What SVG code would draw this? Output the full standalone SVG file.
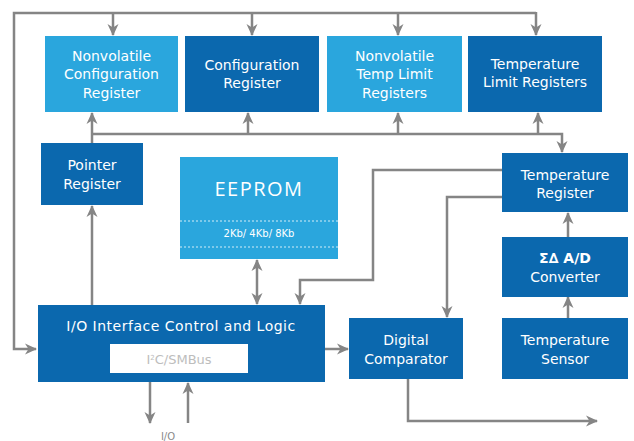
<svg xmlns="http://www.w3.org/2000/svg" width="634" height="441" viewBox="0 0 634 441">
<style>
.light{fill:#2aa6dd}
.dark{fill:#0b68ae}
.t{font-family:"DejaVu Sans","Open Sans","Liberation Sans",sans-serif;font-size:14px;fill:#ffffff;text-anchor:middle}
.c{fill:none;stroke:#858585;stroke-width:2.5}
</style>
<defs>
<marker id="ah" markerUnits="userSpaceOnUse" markerWidth="12" markerHeight="12" viewBox="0 0 12 12" refX="11" refY="6" orient="auto-start-reverse">
<path d="M0,0.5 L12,6 L0,11.5 L3.5,6 Z" fill="#858585"/>
</marker>
</defs>
<g id="connectors">
<path class="c" d="M536,13 H14 V349 H36" marker-end="url(#ah)"/>
<path class="c" d="M113,13 V35" marker-end="url(#ah)"/>
<path class="c" d="M252,13 V35" marker-end="url(#ah)"/>
<path class="c" d="M398,13 V35" marker-end="url(#ah)"/>
<path class="c" d="M536,12 V35" marker-end="url(#ah)"/>
<path class="c" d="M92,143 V113" marker-end="url(#ah)"/>
<path class="c" d="M92,134 H562 V152" marker-end="url(#ah)"/>
<path class="c" d="M248,134 V113" marker-end="url(#ah)"/>
<path class="c" d="M398,134 V113" marker-end="url(#ah)"/>
<path class="c" d="M538,134 V113" marker-end="url(#ah)"/>
<path class="c" d="M92,305 V206" marker-end="url(#ah)"/>
<path class="c" d="M257,260 V304" marker-start="url(#ah)" marker-end="url(#ah)"/>
<path class="c" d="M502,170 H373 V280 H300 V304" marker-end="url(#ah)"/>
<path class="c" d="M502,197 H447 V317" marker-end="url(#ah)"/>
<path class="c" d="M325,349 H348" marker-end="url(#ah)"/>
<path class="c" d="M568,237 V213" marker-end="url(#ah)"/>
<path class="c" d="M568,318 V297" marker-end="url(#ah)"/>
<path class="c" d="M408,379 V421 H597" marker-end="url(#ah)"/>
<path class="c" d="M150,382 V423" marker-end="url(#ah)"/>
<path class="c" d="M188,423 V383" marker-end="url(#ah)"/>
</g>
<g id="nv-config">
<rect class="light" x="45" y="36" width="133" height="76"/>
<text class="t" x="111.5" y="61">Nonvolatile</text>
<text class="t" x="111.5" y="79">Configuration</text>
<text class="t" x="111.5" y="98">Register</text>
</g>
<g id="config">
<rect class="dark" x="185" y="36" width="134" height="76"/>
<text class="t" x="252" y="70">Configuration</text>
<text class="t" x="252" y="88">Register</text>
</g>
<g id="nv-templimit">
<rect class="light" x="327" y="36" width="135" height="76"/>
<text class="t" x="394.5" y="61">Nonvolatile</text>
<text class="t" x="394.5" y="79">Temp Limit</text>
<text class="t" x="394.5" y="98">Registers</text>
</g>
<g id="templimit">
<rect class="dark" x="468" y="36" width="134" height="76"/>
<text class="t" x="535" y="69">Temperature</text>
<text class="t" x="535" y="87">Limit Registers</text>
</g>
<g id="pointer">
<rect class="dark" x="41" y="143" width="102" height="62"/>
<text class="t" x="92" y="170">Pointer</text>
<text class="t" x="92" y="189">Register</text>
</g>
<g id="eeprom">
<rect class="light" x="180" y="157" width="158" height="102"/>
<text class="t" x="259" y="196" style="font-family:'Open Sans','Liberation Sans',sans-serif;font-size:20px;letter-spacing:1.5px">EEPROM</text>
<line x1="180" y1="221" x2="338" y2="221" stroke="#ffffff" stroke-width="1" stroke-dasharray="2,2" opacity="0.8"/>
<line x1="180" y1="247" x2="338" y2="247" stroke="#ffffff" stroke-width="1" stroke-dasharray="2,2" opacity="0.8"/>
<text class="t" x="259" y="237" style="font-size:10px">2Kb/ 4Kb/ 8Kb</text>
</g>
<g id="tempreg">
<rect class="dark" x="502" y="153" width="126" height="59"/>
<text class="t" x="565" y="180">Temperature</text>
<text class="t" x="565" y="198">Register</text>
</g>
<g id="adc">
<rect class="dark" x="502" y="237" width="126" height="60"/>
<text class="t" x="565" y="263" style="font-weight:bold">Σ∆ A/D</text>
<text class="t" x="565" y="282">Converter</text>
</g>
<g id="sensor">
<rect class="dark" x="502" y="318" width="126" height="61"/>
<text class="t" x="565" y="345">Temperature</text>
<text class="t" x="565" y="364">Sensor</text>
</g>
<g id="comparator">
<rect class="dark" x="349" y="318" width="114" height="61"/>
<text class="t" x="406" y="345">Digital</text>
<text class="t" x="406" y="364">Comparator</text>
</g>
<g id="io">
<rect class="dark" x="38" y="305" width="287" height="77"/>
<text class="t" x="181" y="331" style="letter-spacing:0.5px">I/O Interface Control and Logic</text>
<rect x="110" y="344" width="138" height="29" fill="#ffffff"/>
<text class="t" x="179" y="364" style="font-size:13px;fill:#bdbdbd">I<tspan dy="-4" style="font-size:7px">2</tspan><tspan dy="4">C/SMBus</tspan></text>
</g>
<g id="io-label">
<text class="t" x="168" y="440" style="font-size:10px;fill:#8a8a8a">I/O</text>
</g>
</svg>
